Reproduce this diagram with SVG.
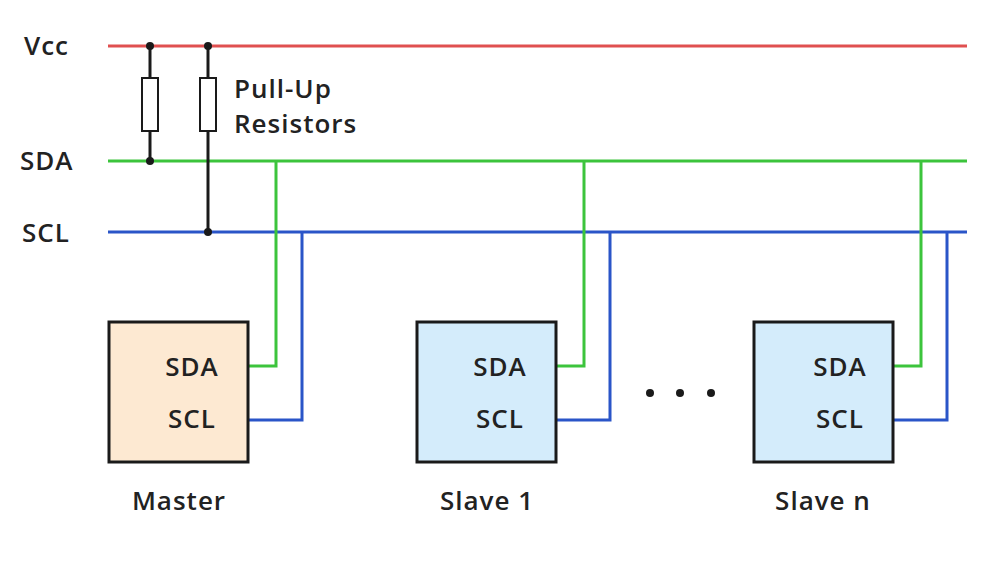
<svg xmlns="http://www.w3.org/2000/svg" width="995" height="569" viewBox="0 0 995 569">
<style>
text{font-family:"Open Sans","Liberation Sans",sans-serif;font-size:26px;fill:#222;font-weight:600;letter-spacing:1px}
.m{text-anchor:middle}
.box{stroke:#1a1a1a;stroke-width:3}
.g{stroke:#3cc43c;stroke-width:3;fill:none}
.b{stroke:#2a55c8;stroke-width:3;fill:none}
.k{stroke:#1a1a1a;stroke-width:3;fill:none}
.res{stroke:#1a1a1a;stroke-width:2;fill:#fff}
</style>
<rect width="995" height="569" fill="#fff"/>
<g id="labels">
<text x="24" y="55">Vcc</text>
<text x="20" y="170">SDA</text>
<text x="22" y="242">SCL</text>
<text x="234" y="98">Pull-Up</text>
<text x="234" y="133">Resistors</text>
</g>
<g id="connectors">
<line x1="108" y1="46" x2="967" y2="46" stroke="#e05050" stroke-width="3"/>
<line x1="108" y1="161" x2="967" y2="161" class="g"/>
<line x1="108" y1="232" x2="967" y2="232" class="b"/>
<line x1="150" y1="46" x2="150" y2="161" class="k"/>
<line x1="208" y1="46" x2="208" y2="232" class="k"/>
<polyline class="g" points="276,161 276,366 248,366"/>
<polyline class="b" points="302,232 302,420 248,420"/>
<polyline class="g" points="584,161 584,366 556,366"/>
<polyline class="b" points="610,232 610,420 556,420"/>
<polyline class="g" points="921,161 921,366 893,366"/>
<polyline class="b" points="947,232 947,420 893,420"/>
<circle cx="150" cy="46" r="4" fill="#1a1a1a"/>
<circle cx="150" cy="161" r="4" fill="#1a1a1a"/>
<circle cx="208" cy="46" r="4" fill="#1a1a1a"/>
<circle cx="208" cy="232" r="4" fill="#1a1a1a"/>
</g>
<g id="r1"><rect class="res" x="142" y="78" width="16" height="53"/></g>
<g id="r2"><rect class="res" x="200" y="78" width="16" height="53"/></g>
<g id="master">
<rect class="box" x="109" y="322" width="139" height="140" fill="#fde9d2"/>
<text class="m" x="192" y="376">SDA</text>
<text class="m" x="192" y="428">SCL</text>
<text class="m" x="179" y="510">Master</text>
</g>
<g id="slave1">
<rect class="box" x="417" y="322" width="139" height="140" fill="#d4ecfb"/>
<text class="m" x="500" y="376">SDA</text>
<text class="m" x="500" y="428">SCL</text>
<text class="m" x="487" y="510">Slave 1</text>
</g>
<g id="dots">
<circle cx="650" cy="393" r="4" fill="#1a1a1a"/>
<circle cx="680" cy="393" r="4" fill="#1a1a1a"/>
<circle cx="711" cy="393" r="4" fill="#1a1a1a"/>
</g>
<g id="slaven">
<rect class="box" x="754" y="322" width="139" height="140" fill="#d4ecfb"/>
<text class="m" x="840" y="376">SDA</text>
<text class="m" x="840" y="428">SCL</text>
<text class="m" x="823" y="510">Slave n</text>
</g>
</svg>
